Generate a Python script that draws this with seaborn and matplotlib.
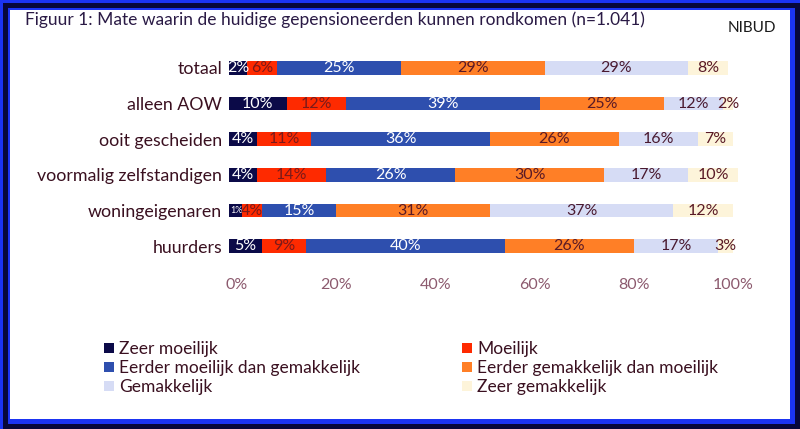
import matplotlib
matplotlib.use("Agg")
import matplotlib.pyplot as plt
from matplotlib.patches import Rectangle, Patch
import numpy as np
import pandas as pd
import seaborn as sns

categories = ["totaal", "alleen AOW", "ooit gescheiden", "voormalig zelfstandigen",
              "woningeigenaren", "huurders"]
series_names = ["Zeer moeilijk", "Moeilijk", "Eerder moeilijk dan gemakkelijk",
                "Eerder gemakkelijk dan moeilijk", "Gemakkelijk", "Zeer gemakkelijk"]
zeer_moeilijk = [2, 10, 4, 4, 1, 5]
moeilijk = [6, 12, 11, 14, 4, 9]
eerder_moeilijk = [25, 39, 36, 26, 15, 40]
eerder_gemakkelijk = [29, 25, 26, 30, 31, 26]
gemakkelijk = [29, 12, 16, 17, 37, 17]
zeer_gemakkelijk = [8, 2, 7, 10, 12, 3]
tick_values = [0, 20, 40, 60, 80, 100]
tick_labels = ["0%", "20%", "40%", "60%", "80%", "100%"]

colors = ["#0b0a48", "#fe2a00", "#2e4fae", "#ff7f26", "#d6dcf5", "#fdf4da"]
text_colors = ["white", "#7a1a1a", "white", "#5a1a26", "#4a1a30", "#5a1a26"]

series = [zeer_moeilijk, moeilijk, eerder_moeilijk, eerder_gemakkelijk,
          gemakkelijk, zeer_gemakkelijk]

plt.rcParams["font.family"] = ["Lato", "DejaVu Sans"]

W, H = 800, 429
fig = plt.figure(figsize=(W / 100, H / 100), dpi=100)
fig.patch.set_facecolor("#1b34f2")


def frect(x0, y0, x1, y1, **kw):
    fig.patches.append(Rectangle((x0 / W, 1 - y1 / H), (x1 - x0) / W, (y1 - y0) / H,
                                 transform=fig.transFigure, zorder=-10, **kw))


frect(3, 3, 800, 429, facecolor="#07073a", edgecolor="none")
frect(8, 8, 795, 424, facecolor="#1b34f2", edgecolor="none")
frect(10, 10, 790, 419, facecolor="white", edgecolor="none")

# axes: 0% sits at x=237 px, 4.96 px per percent; the first segment overhangs left
PX_PER = 4.96
AX_LEFT, ZERO_PX, AX_RIGHT = 229, 237, 740
xmin = -(ZERO_PX - AX_LEFT) / PX_PER
xmax = (AX_RIGHT - ZERO_PX) / PX_PER

ax = fig.add_axes([AX_LEFT / W, 1 - 264 / H, (AX_RIGHT - AX_LEFT) / W, (264 - 50) / H])
ax.set_facecolor("none")
ax.set_zorder(1)

data = np.array(series, dtype=float)
cum = np.cumsum(data, axis=0)
for i in range(len(series) - 1, -1, -1):
    df = pd.DataFrame({"cat": categories, "val": cum[i]})
    n_before = len(ax.patches)
    sns.barplot(data=df, x="val", y="cat", orient="h", color=colors[i],
                saturation=1, width=0.38, ax=ax, linewidth=0)
    if i == 0:
        # first segment overhangs slightly left of the 0% mark, as in the reference
        for p in ax.patches[n_before:]:
            w = p.get_width()
            p.set_x(xmin)
            p.set_width(w - xmin)

for i in range(len(series)):
    for j, cat in enumerate(categories):
        v = data[i, j]
        left = cum[i, j] - v
        if i == 0:
            left = xmin
        xc = (left + cum[i, j]) / 2
        fs = 11.5 if v >= 2 else 6.5
        if v < 2:
            xc = left + 0.2
            ha = "left"
        else:
            ha = "center"
        ax.text(xc, j, f"{int(v)}%", ha=ha, va="center", fontsize=fs,
                color=text_colors[i])

ax.set_xlim(xmin, xmax)
ax.set_ylim(5.5, -0.5)
ax.set_xlabel("")
ax.set_ylabel("")
ax.set_xticks(tick_values)
ax.set_xticklabels(tick_labels)
for s in ax.spines.values():
    s.set_visible(False)
ax.tick_params(axis="x", length=0, pad=10, labelsize=11.5, labelcolor="#8c5a6e")
ax.tick_params(axis="y", length=0, pad=5, labelsize=12.8, labelcolor="#3a1020")
ax.grid(False)

fig.text(25 / W, 1 - 20 / H, "Figuur 1: Mate waarin de huidige gepensioneerden kunnen rondkomen (n=1.041)",
         ha="left", va="center", fontsize=12.5, color="#2a1a45")
fig.text(776 / W, 1 - 28 / H, "NIBUD", ha="right", va="center", fontsize=11, color="#1a1a1a")

order = [0, 2, 4, 1, 3, 5]
handles = [Patch(facecolor=colors[k], edgecolor="none", label=series_names[k]) for k in order]
leg = fig.legend(handles=handles, ncol=2, loc="upper left",
                 bbox_to_anchor=(104 / W, 1 - 341 / H), frameon=False,
                 fontsize=12.5, handlelength=0.55, handleheight=0.55,
                 handletextpad=0.3, columnspacing=5.9, labelspacing=0.18,
                 borderaxespad=0, borderpad=0)
for t in leg.get_texts():
    t.set_color("#3a1020")

fig.savefig("out.png", dpi=100, facecolor=fig.get_facecolor())
